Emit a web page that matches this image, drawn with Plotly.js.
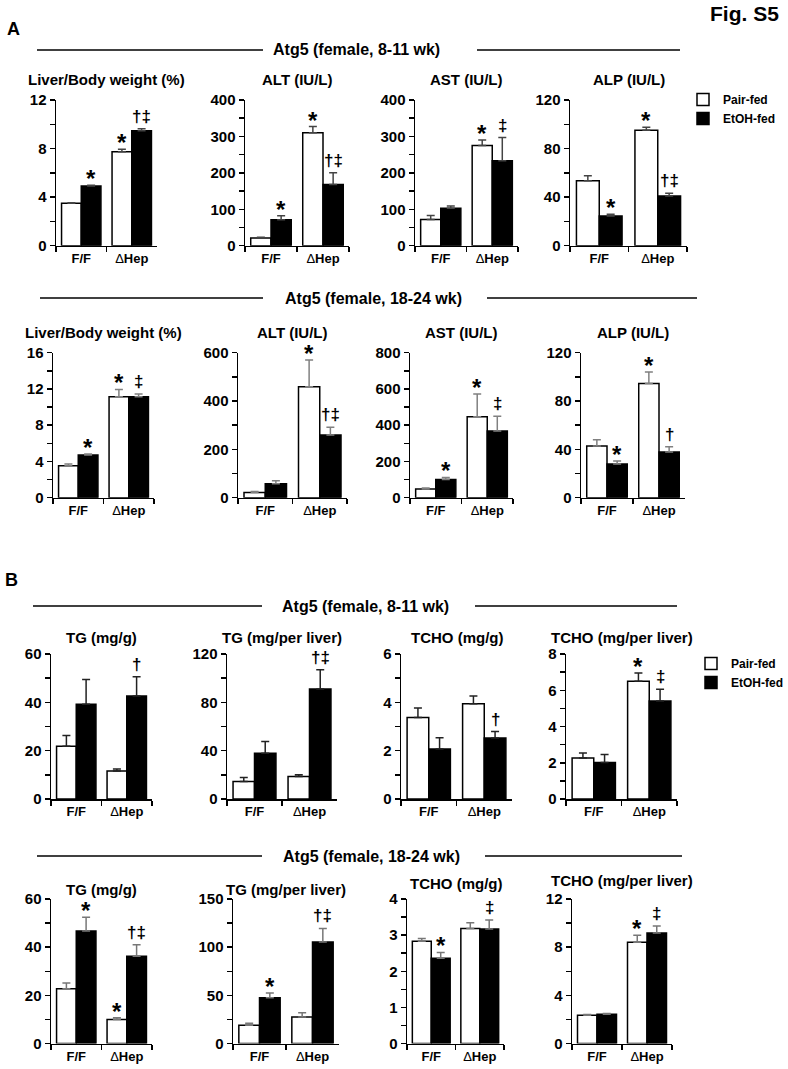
<!DOCTYPE html>
<html><head><meta charset="utf-8">
<script src="https://cdn.plot.ly/plotly-3.0.1.min.js"></script>
<style>html,body{margin:0;padding:0;background:#fff}</style>
</head><body><div id="chart" style="width:788px;height:1069px"></div>
<script>
// ---------------- DATA ----------------
const categories = ['F/F', 'ΔHep'];
const tickLabels = ['<b>F/F</b>', 'Δ<b>Hep</b>'];
const seriesNames = ['Pair-fed', 'EtOH-fed'];
const headerText = ['Atg5 (female, 8-11 wk)', 'Atg5 (female, 18-24 wk)', 'Atg5 (female, 8-11 wk)', 'Atg5 (female, 18-24 wk)'];

// Panel A, 8-11 wk
const A1_titles = ['Liver/Body weight (%)', 'ALT (IU/L)', 'AST (IU/L)', 'ALP (IU/L)'];
const A1_pair    = [[3.49, 7.74], [21, 310], [72, 275], [53.5, 95]];
const A1_pairErr = [[0.05, 0.2], [2, 17], [11, 15], [4.2, 2.5]];
const A1_etoh    = [[4.92, 9.47], [71, 168], [102.5, 233], [24.4, 40.9]];
const A1_etohErr = [[0.05, 0.17], [11, 32], [6.5, 64], [1.6, 2.2]];
const A1_pairSig = [['', '*'], ['', '*'], ['', '*'], ['', '*']];
const A1_etohSig = [['*', '†‡'], ['*', '†‡'], ['', '‡'], ['*', '†‡']];
const A1_yMax = [12, 400, 400, 120];
const A1_yStep = [4, 100, 100, 40];
const A1_yMinor = [2, 50, 50, 20];

// Panel A, 18-24 wk
const A2_titles = ['Liver/Body weight (%)', 'ALT (IU/L)', 'AST (IU/L)', 'ALP (IU/L)'];
const A2_pair    = [[3.53, 11.14], [22, 459], [48, 447], [42.8, 94.6]];
const A2_pairErr = [[0.18, 0.81], [4, 111], [5, 125], [5.2, 9.4]];
const A2_etoh    = [[4.71, 11.14], [58, 259], [101, 368], [27.9, 37.8]];
const A2_etohErr = [[0.11, 0.3], [12, 32], [11, 82], [2.5, 4.4]];
const A2_pairSig = [['', '*'], ['', '*'], ['', '*'], ['', '*']];
const A2_etohSig = [['*', '‡'], ['', '†‡'], ['*', '‡'], ['*', '†']];
const A2_yMax = [16, 600, 800, 120];
const A2_yStep = [4, 200, 200, 40];
const A2_yMinor = [2, 100, 100, 20];

// Panel B, 8-11 wk
const B1_titles = ['TG (mg/g)', 'TG (mg/per liver)', 'TCHO (mg/g)', 'TCHO (mg/per liver)'];
const B1_pair    = [[21.8, 11.6], [14.4, 18.6], [3.37, 3.94], [2.26, 6.49]];
const B1_pairErr = [[4.5, 0.8], [3.4, 1.4], [0.4, 0.32], [0.28, 0.46]];
const B1_etoh    = [[39.2, 42.6], [37.8, 91], [2.07, 2.52], [2.02, 5.41]];
const B1_etohErr = [[10.3, 8], [9.7, 16], [0.46, 0.27], [0.43, 0.64]];
const B1_pairSig = [['', ''], ['', ''], ['', ''], ['', '*']];
const B1_etohSig = [['', '†'], ['', '†‡'], ['', '†'], ['', '‡']];
const B1_yMax = [60, 120, 6, 8];
const B1_yStep = [20, 40, 2, 2];
const B1_yMinor = [10, 20, 1, 1];

// Panel B, 18-24 wk
const B2_titles = ['TG (mg/g)', 'TG (mg/per liver)', 'TCHO (mg/g)', 'TCHO (mg/per liver)'];
const B2_pair    = [[22.7, 10], [19, 27.4], [2.83, 3.18], [2.35, 8.4]];
const B2_pairErr = [[2.4, 0.7], [2, 4.5], [0.08, 0.16], [0.05, 0.6]];
const B2_etoh    = [[46.7, 36.2], [47.5, 105.3], [2.36, 3.17], [2.43, 9.18]];
const B2_etohErr = [[5.7, 4.8], [4.8, 14.2], [0.16, 0.25], [0.07, 0.58]];
const B2_pairSig = [['', '*'], ['', ''], ['', ''], ['', '*']];
const B2_etohSig = [['*', '†‡'], ['*', '†‡'], ['*', '‡'], ['', '‡']];
const B2_yMax = [60, 150, 4, 12];
const B2_yStep = [20, 50, 1, 4];
const B2_yMinor = [10, 25, 0.5, 2];

// ---------------- LAYOUT / STYLE ----------------
const W = 788, H = 1069;
const fx = px => px / W, fy = py => 1 - py / H;
const FONT = 'Liberation Sans, Arial, Helvetica, sans-serif';
const BARGAP = 0.22, OFF = (1 - BARGAP) / 4;

const rows = [
  {titles:A1_titles, pair:A1_pair, pairErr:A1_pairErr, etoh:A1_etoh, etohErr:A1_etohErr, pairSig:A1_pairSig, etohSig:A1_etohSig, yMax:A1_yMax, yStep:A1_yStep, yMinor:A1_yMinor,
   top:100, bottom:245.7, xl:[56,245,415,570], xr:[157,349,518,687], titleY:[79,79,79,79], hy:50, tx:356, l1:[37,263], l2:[477,680], err:'#444'},
  {titles:A2_titles, pair:A2_pair, pairErr:A2_pairErr, etoh:A2_etoh, etohErr:A2_etohErr, pairSig:A2_pairSig, etohSig:A2_etohSig, yMax:A2_yMax, yStep:A2_yStep, yMinor:A2_yMinor,
   top:352.7, bottom:497.7, xl:[53,238,410,581], xr:[154,347,513,685], titleY:[333,333,333,333], hy:298, tx:373, l1:[40,263], l2:[487,697], err:'#808080'},
  {titles:B1_titles, pair:B1_pair, pairErr:B1_pairErr, etoh:B1_etoh, etohErr:B1_etohErr, pairSig:B1_pairSig, etohSig:B1_etohSig, yMax:B1_yMax, yStep:B1_yStep, yMinor:B1_yMinor,
   top:654, bottom:799, xl:[51,227,401,566], xr:[152,337,512,677], titleY:[637,637,637,637], hy:606, tx:365, l1:[33,262], l2:[475,677], err:'#222'},
  {titles:B2_titles, pair:B2_pair, pairErr:B2_pairErr, etoh:B2_etoh, etohErr:B2_etohErr, pairSig:B2_pairSig, etohSig:B2_etohSig, yMax:B2_yMax, yStep:B2_yStep, yMinor:B2_yMinor,
   top:899, bottom:1043.5, xl:[51,233,407,572], xr:[152,339,504,672], titleY:[889,889,883,880], hy:856, tx:371, l1:[37,262], l2:[485,682], err:'#777'}
];

const traces = [], annotations = [], shapes = [];
const layout = {
  width: W, height: H, margin: {l:0, r:0, t:0, b:0},
  paper_bgcolor: '#fff', plot_bgcolor: '#fff',
  barmode: 'group', bargap: BARGAP, bargroupgap: 0,
  font: {family: FONT, color: '#000'},
  showlegend: true,
  legend: {x: fx(683), y: fy(85), xanchor: 'left', yanchor: 'top', bgcolor: 'rgba(0,0,0,0)',
           font: {family: FONT, size: 12, weight: 'bold', color: '#000'}, tracegroupgap: 0},
  legend2: {x: fx(691), y: fy(649), xanchor: 'left', yanchor: 'top', bgcolor: 'rgba(0,0,0,0)',
           font: {family: FONT, size: 12, weight: 'bold', color: '#000'}, tracegroupgap: 0}
};

let n = 0;
rows.forEach((row, r) => {
  // section header
  annotations.push({xref:'paper', yref:'paper', x: fx(row.tx), y: fy(row.hy), text: headerText[r],
    showarrow:false, xanchor:'center', yanchor:'middle', font:{family:FONT, size:16, weight:'bold', color:'#000'}});
  [row.l1, row.l2].forEach(l => shapes.push({type:'line', xref:'paper', yref:'paper', x0: fx(l[0]), x1: fx(l[1]),
    y0: fy(row.hy), y1: fy(row.hy), line:{color:'#000', width:1.5}}));

  row.titles.forEach((title, p) => {
    n++;
    const xa = n === 1 ? 'x' : 'x' + n, ya = n === 1 ? 'y' : 'y' + n;
    const xk = n === 1 ? 'xaxis' : 'xaxis' + n, yk = n === 1 ? 'yaxis' : 'yaxis' + n;
    const legendName = r === 0 ? 'legend' : 'legend2';
    const inLegend = p === 3 && (r === 0 || r === 2);
    traces.push({type:'bar', x: categories, y: row.pair[p], xaxis: xa, yaxis: ya, name: seriesNames[0],
      marker:{color:'#fff', line:{color:'#000', width:1.5}},
      error_y:{type:'data', symmetric:false, array: row.pairErr[p], arrayminus:[0,0], color: row.err, thickness:1.5, width:4},
      showlegend: inLegend, legend: legendName, hoverinfo:'skip'});
    traces.push({type:'bar', x: categories, y: row.etoh[p], xaxis: xa, yaxis: ya, name: seriesNames[1],
      marker:{color:'#000', line:{color:'#000', width:1.5}},
      error_y:{type:'data', symmetric:false, array: row.etohErr[p], arrayminus:[0,0], color: row.err, thickness:1.5, width:4},
      showlegend: inLegend, legend: legendName, hoverinfo:'skip'});

    layout[xk] = {domain:[fx(row.xl[p]), fx(row.xr[p])], anchor: ya, type:'category',
      categoryorder:'array', categoryarray: categories, tickmode:'array', tickvals: categories, ticktext: tickLabels,
      tickson:'boundaries', ticks:'outside', ticklen:5, tickwidth:1.5, tickcolor:'#000',
      showline:true, linecolor:'#000', linewidth:1.5, showgrid:false, zeroline:false, range:[-0.5, 1.5],
      tickfont:{family:FONT, size:13, color:'#000'}, fixedrange:true};
    layout[yk] = {domain:[fy(row.bottom), fy(row.top)], anchor: xa, range:[0, row.yMax[p]],
      tickmode:'linear', tick0:0, dtick: row.yStep[p], ticks:'outside', ticklen:5, tickwidth:1.5, tickcolor:'#000',
      showline:true, linecolor:'#000', linewidth:1.5, showgrid:false, zeroline:false,
      tickfont:{family:FONT, size:15, weight:'bold', color:'#000'},
      minor:{tick0:0, dtick: row.yMinor[p], ticks:'outside', ticklen:5, tickwidth:1.5, tickcolor:'#000', showgrid:false},
      fixedrange:true};

    // subplot title
    annotations.push({xref:'paper', yref:'paper', x: fx((row.xl[p] + row.xr[p]) / 2), y: fy(row.titleY[p]), text: title,
      showarrow:false, xanchor:'center', yanchor:'middle', font:{family:FONT, size:15, weight:'bold', color:'#000'}});

    // significance marks
    [[row.pair[p], row.pairErr[p], row.pairSig[p], -OFF], [row.etoh[p], row.etohErr[p], row.etohSig[p], OFF]].forEach(s => {
      s[2].forEach((sig, i) => {
        if (!sig) return;
        const star = sig === '*';
        annotations.push({xref: xa, yref: ya, x: i + s[3], y: s[0][i] + s[1][i], text: sig, showarrow:false,
          xanchor:'center', yanchor:'bottom', yshift: star ? -9 : 1,
          font:{family:FONT, size: star ? 24 : 17, weight:'bold', color:'#000'}});
      });
    });
  });
});

annotations.push({xref:'paper', yref:'paper', x: fx(5), y: fy(29), text:'A', showarrow:false, xanchor:'left', yanchor:'middle',
  font:{family:FONT, size:18, weight:'bold', color:'#000'}});
annotations.push({xref:'paper', yref:'paper', x: fx(3), y: fy(580), text:'B', showarrow:false, xanchor:'left', yanchor:'middle',
  font:{family:FONT, size:18, weight:'bold', color:'#000'}});
annotations.push({xref:'paper', yref:'paper', x: fx(781), y: fy(14), text:'Fig. S5', showarrow:false, xanchor:'right', yanchor:'middle',
  font:{family:FONT, size:21, weight:'bold', color:'#000'}});

layout.annotations = annotations;
layout.shapes = shapes;

Plotly.newPlot('chart', traces, layout, {displayModeBar:false, staticPlot:true});
</script></body></html>
